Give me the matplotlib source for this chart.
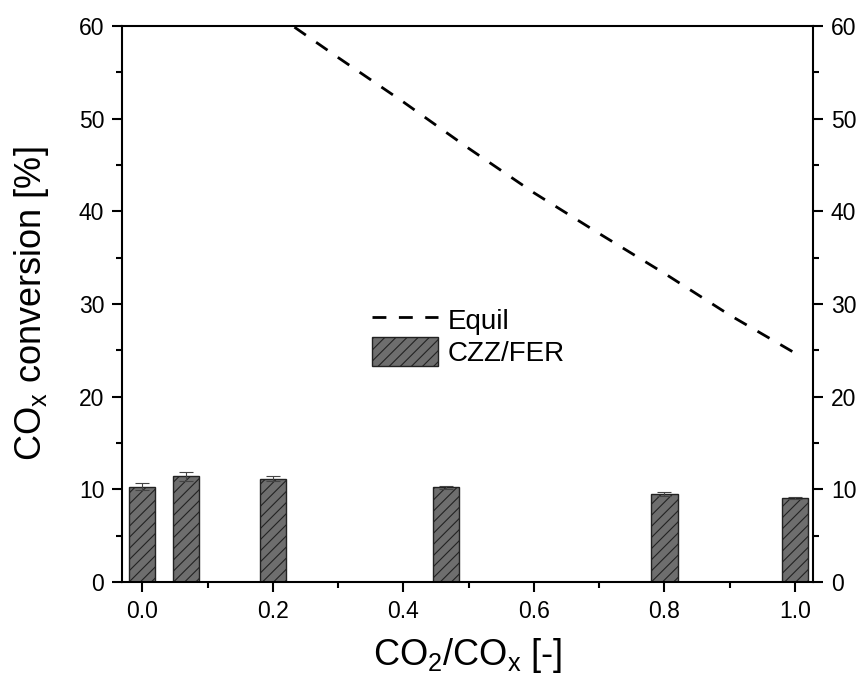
import numpy as np
import matplotlib
matplotlib.use("Agg")
import matplotlib.pyplot as plt
from matplotlib.ticker import MultipleLocator

plt.rcParams['font.family'] = ['Liberation Sans', 'DejaVu Sans']
plt.rcParams['mathtext.fontset'] = 'custom'
plt.rcParams['mathtext.rm'] = 'Liberation Sans'
plt.rcParams['mathtext.it'] = 'Liberation Sans'
plt.rcParams['hatch.linewidth'] = 0.8

# measured conversion (bars)
ratio = [0.0, 0.067, 0.2, 0.466, 0.8, 1.0]
conversion = [10.3, 11.4, 11.15, 10.2, 9.5, 9.1]
conversion_err = [0.4, 0.45, 0.25, 0.2, 0.25, 0.12]

# equilibrium conversion (dashed line)
equil_x = [0.2, 0.3, 0.4, 0.5, 0.6, 0.7, 0.8, 0.9, 1.0]
equil_y = [61.5, 56.6, 51.8, 46.8, 42.0, 37.6, 33.3, 28.8, 24.7]

fig = plt.figure(figsize=(8.61, 6.79), dpi=100)
ax = fig.add_axes([0.1417, 0.1429, 0.8029, 0.8188])

ax.plot(equil_x, equil_y, 'k--', lw=2.0, dashes=(5, 4.5), label='Equil')
ax.bar(ratio, conversion, width=0.04, color='#6e6e6e', edgecolor='#222222',
       linewidth=1.0, hatch='///', label='CZZ/FER')
ax.errorbar(ratio, conversion, yerr=conversion_err, fmt='none',
            ecolor='#444444', elinewidth=0.8, capsize=5, capthick=0.8)

ax.set_xlim(-0.031, 1.028)
ax.set_ylim(0, 60)
ax.xaxis.set_major_locator(MultipleLocator(0.2))
ax.xaxis.set_minor_locator(MultipleLocator(0.1))
ax.yaxis.set_major_locator(MultipleLocator(10))
ax.yaxis.set_minor_locator(MultipleLocator(5))
ax.xaxis.set_major_formatter(plt.FormatStrFormatter('%.1f'))

for s in ax.spines.values():
    s.set_linewidth(1.5)

ax.tick_params(which='major', direction='out', length=7.2, width=1.5, pad=5.5,
               labelsize=16.5, right=True, labelright=True, top=False)
ax.tick_params(which='minor', direction='out', length=4, width=1.5,
               right=True, top=False)

ax.set_xlabel('CO$_2$/CO$_x$ [-]', fontsize=26, labelpad=10)
ax.set_ylabel('CO$_x$ conversion [%]', fontsize=26, labelpad=20)

ax.legend(loc='upper left', bbox_to_anchor=(0.361, 0.498), frameon=False,
          fontsize=20, handlelength=2.4, handleheight=1.25, borderpad=0,
          handletextpad=0.33, labelspacing=0.05, borderaxespad=0)

fig.savefig('out.png', dpi=100)
